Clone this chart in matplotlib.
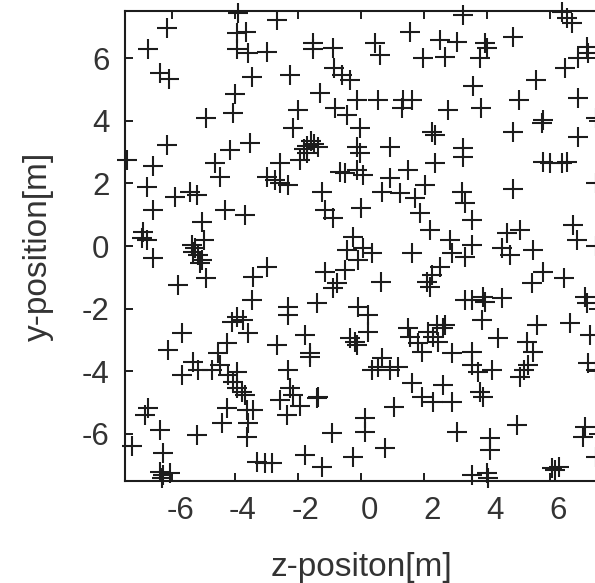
import matplotlib
matplotlib.use("Agg")
import matplotlib.pyplot as plt
import matplotlib.transforms as mtransforms

plt.rcParams['font.family'] = ['Liberation Sans', 'DejaVu Sans']
plt.rcParams['axes.unicode_minus'] = False

x_ticks = [-6, -4, -2, 0, 2, 4, 6]
y_ticks = [-6, -4, -2, 0, 2, 4, 6]
x_label = "z-positon[m]"
y_label = "y-position[m]"

z_pos = [
    # upper left
    -6.17, -6.75, -6.38, -6.09, -4.92, -6.17, -7.44, -6.60, -4.63, -4.16, -3.52,
    -4.05, -4.00, -3.47, -3.90, -3.95, -3.65, -3.95, -3.60, -2.99, -2.68, -2.57,
    # upper middle
    -1.52, -1.52, -0.88, -0.85, -0.61, -0.35, 0.44, 0.60, 1.56, 1.98, -2.25,
    -1.30, -1.99, -0.83, -0.45, -0.14, 0.55, 1.34, 1.61, 1.29, -2.15, -0.03,
    2.24, 2.35, -1.60, -1.70, -1.50, -1.80, -1.36, -1.94, -1.72, -0.14, -0.03, 0.92,
    # upper right
    3.23, 6.37, 6.53, 6.69, 2.51, 3.04, 2.67, 3.94, 3.99, 3.78, 4.84, 7.17, 7.22,
    6.90, 6.48, 5.56, 3.57, 5.00, 6.90, 2.77, 3.80, 5.79, 5.74, 7.45, 4.84, 6.90,
    3.25, 3.25, 2.35, 5.79, 6.00, 6.37, 6.53,
    # middle left
    -6.80, -5.90, -5.43, -5.22, -6.59, -4.48, -4.32, -3.68, -2.99, -2.73, -2.57,
    -6.91, -6.96, -6.80, -5.06, -5.00, -5.37, -5.27, -5.32, -5.17, -5.06, -5.11,
    -6.59, -5.80, -4.92, -3.42, -2.99, -3.47, -4.10, -3.95, -3.74,
    # center
    -2.31, -0.67, -0.51, -0.14, 0.07, -1.25, -1.14, -0.88, 0.00, 0.92, 1.50, 0.66,
    1.24, 1.71, 1.87, 2.03, 2.19, -0.24, -0.45, 0.07, 0.34, -0.09, 1.61, -1.14,
    -0.51, -0.77, -0.88, 0.63, 2.09, 2.24, 2.19, -2.31, -2.31, -1.41, -0.09, 0.23,
    # middle right
    7.45, 4.84, 3.20, 3.30, 3.51, 2.83, 2.88, 3.30, 3.51, 4.63, 5.05, 4.47, 4.73,
    5.47, 6.74, 6.85, 7.45, 5.79, 5.42, 6.43, 2.51, 3.30, 3.51, 3.88, 3.94, 4.47,
    3.83, 5.58, 6.63, 7.11, 7.17, 2.40, 2.67,
    # lower left
    -5.69, -3.58, -6.12, -4.26, -4.53, -2.68, -5.32, -5.16, -5.69, -4.74, -4.48,
    -3.95, -4.21, -4.05, -3.95, -3.79, -3.68, -6.75, -6.86, -6.38, -7.28, -5.22,
    -4.26, -4.42, -3.63, -3.42, -3.58, -3.63, -6.27, -6.38, -6.27, -6.06, -6.33,
    -3.31, -3.05, -2.83,
    # lower middle
    -1.78, -1.62, -1.62, -0.35, -0.19, -0.14, 0.23, 1.50, 1.56, 1.82, 1.93, 2.14,
    2.30, -2.31, 0.66, 0.34, 0.55, 0.92, 1.18, 1.61, 1.93, 2.30, -2.25, -2.15,
    -2.57, -1.94, -2.36, -1.41, -1.36, 1.05, 0.13, 0.13, -0.93, 0.76, -1.78,
    -0.24, -1.25,
    # lower right
    2.46, 2.61, 4.36, 5.26, 5.47, 7.27, 2.88, 3.51, 3.51, 3.72, 4.15, 5.31, 5.16,
    5.05, 7.22, 7.45, 2.61, 3.78, 3.88, 2.88, 3.04, 4.94, 4.10, 4.10, 7.11, 7.06,
    7.45, 3.51, 3.99, 4.03, 6.06, 6.16, 6.27,
]

y_pos = [
    # upper left
    6.96, 6.28, 5.52, 5.33, 4.08, 3.23, 2.75, 2.55, 2.64, 3.07, 3.28,
    4.24, 4.85, 5.39, 7.43, 6.80, 6.85, 6.28, 6.16, 6.21, 7.22, 2.64,
    # upper middle
    6.48, 6.29, 6.32, 5.68, 5.46, 5.30, 6.48, 6.10, 6.85, 6.00, 5.46,
    4.88, 4.35, 4.40, 4.19, 4.66, 4.66, 4.66, 4.66, 4.40, 3.76, 3.76,
    3.65, 3.55, 3.35, 3.20, 3.25, 3.10, 3.17, 2.75, 2.96, 3.17, 2.96, 3.17,
    # upper right
    7.38, 7.49, 7.27, 7.11, 6.58, 6.53, 6.05, 6.48, 6.32, 6.00, 6.69, 6.37, 6.16,
    6.00, 5.68, 5.30, 5.11, 4.66, 4.72, 4.35, 4.40, 4.03, 3.92, 4.08, 3.65, 3.49,
    3.12, 2.85, 2.64, 2.69, 2.64, 2.64, 2.69,
    # middle left
    1.89, 1.58, 1.73, 1.63, 1.15, 2.21, 1.15, 0.99, 2.21, 2.11, 2.00,
    0.46, 0.25, 0.19, 0.78, 0.19, 0.03, -0.07, -0.18, -0.29, -0.45, -0.55,
    -0.39, -1.25, -1.03, -0.98, -0.66, -1.73, -2.42, -2.26, -2.36,
    # center
    1.95, 2.37, 2.32, 2.43, 2.27, 1.73, 1.15, 0.88, 1.20, 2.16, 2.43, 1.73,
    1.68, 1.52, 1.04, 1.95, 0.51, 0.30, -0.13, -0.07, -0.23, -0.45, -0.23, -0.82,
    -0.77, -1.19, -1.35, -1.14, -1.14, -0.93, -1.30, -1.94, -2.20, -1.83, -1.94, -2.20,
    # middle right
    2.02, 1.81, 1.73, 1.36, 0.83, 0.19, -0.23, -0.34, 0.03, 0.41, 0.51, -0.07, -0.29,
    -0.13, 0.67, 0.19, 0.00, -0.82, -1.19, -1.03, -0.66, -1.73, -1.73, -1.62, -1.78, -1.67,
    -2.36, -2.52, -2.47, -1.62, -1.83, -2.52, -2.52,
    # lower left
    -2.79, -2.79, -3.32, -3.11, -3.43, -3.16, -3.70, -3.96, -4.12, -3.96, -3.80,
    -4.02, -4.12, -4.34, -4.55, -4.66, -4.76, -5.19, -5.40, -5.88, -6.39, -6.04,
    -5.19, -5.66, -5.24, -5.24, -5.66, -6.09, -6.62, -7.21, -7.32, -7.26, -7.42,
    -6.89, -6.94, -6.94,
    # lower middle
    -2.84, -3.43, -3.54, -2.95, -3.06, -3.16, -2.74, -2.63, -2.90, -3.11, -3.38, -2.74,
    -2.90, -3.96, -3.59, -3.96, -3.86, -3.96, -3.86, -4.39, -4.81, -4.97, -4.55, -4.76,
    -4.92, -5.11, -5.40, -4.87, -4.82, -5.15, -5.51, -5.93, -5.98, -6.46, -6.68,
    -6.73, -7.05,
    # lower right
    -3.06, -2.63, -2.95, -3.06, -3.38, -2.84, -3.43, -3.38, -3.80, -4.02, -3.96, -3.80, -3.96,
    -4.18, -3.75, -3.96, -4.44, -4.66, -4.81, -4.97, -5.93, -5.72, -6.14, -6.52, -5.77, -6.09,
    -6.73, -7.32, -7.26, -7.42, -7.10, -7.16, -7.05,
]

W, H = 595, 583
fig = plt.figure(figsize=(W / 100, H / 100), dpi=100)
ax = fig.add_axes([124.75 / W, (H - 480.75) / H, 472.5 / W, 469.5 / H])

ax.plot(z_pos, y_pos, linestyle='none', marker='+', markersize=14,
        markeredgewidth=1.5, color='#1c1c1c', clip_on=False)

ax.set_xlim(-7.5, 7.5)
ax.set_ylim(-7.5, 7.5)
ax.set_xticks(x_ticks)
ax.set_yticks(y_ticks)
ax.set_xticklabels([str(t) for t in x_ticks])
ax.set_yticklabels([str(t) for t in y_ticks])

for sp in ax.spines.values():
    sp.set_linewidth(1.5)
    sp.set_color('#1c1c1c')

ax.tick_params(direction='in', length=5.5, width=1.4, top=True, right=True,
               labelsize=22.5, labelcolor='#333333', color='#1c1c1c')
ax.tick_params(axis='x', pad=11)
ax.tick_params(axis='y', pad=11)

offset = mtransforms.ScaledTranslation(8 / 100, 0, fig.dpi_scale_trans)
for lab in ax.get_xticklabels():
    lab.set_transform(lab.get_transform() + offset)

ax.set_xlabel(x_label, fontsize=24, color='#333333', labelpad=19)
ax.set_ylabel(y_label, fontsize=24, color='#333333', labelpad=20)

fig.savefig("out.png", dpi=100, facecolor='white')
